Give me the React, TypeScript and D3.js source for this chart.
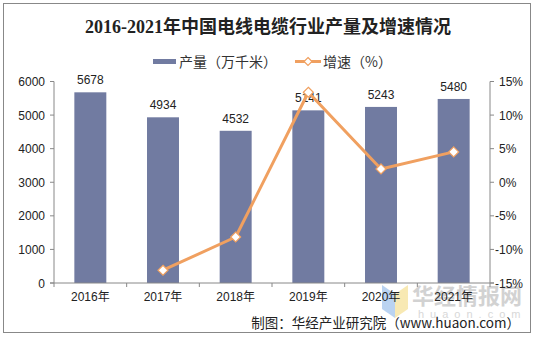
import React from "react";
import * as d3 from "d3";

const years = ["2016年", "2017年", "2018年", "2019年", "2020年", "2021年"];
const output = [5678, 4934, 4532, 5141, 5243, 5480];
const growth = [null, -13.1, -8.15, 13.4, 1.98, 4.52];
const leftTicks = [0, 1000, 2000, 3000, 4000, 5000, 6000];
const rightTicks = [-15, -10, -5, 0, 5, 10, 15];

const W = 535, H = 338;
const BAR = "#717ba1";
const LINE = "#f0a060";
const SANS = "'Liberation Sans', Arial, 'Noto Sans CJK SC', sans-serif";

export default function App() {
  const x0 = 54, x1 = 490, yTop = 81.5, yBot = 283;
  const x = d3.scaleBand<string>().domain(years).range([x0, x1]).paddingInner(0.56).paddingOuter(0.28);
  const xb = d3.scaleBand<string>().domain(years).range([x0, x1]);
  const yL = d3.scaleLinear().domain([0, 6000]).range([yBot, yTop]);
  const yR = d3.scaleLinear().domain([-15, 15]).range([yBot, yTop]);
  const pts = years
    .map((yr, i) => ({ yr, v: growth[i] }))
    .filter((d) => d.v !== null) as { yr: string; v: number }[];
  const line = d3
    .line<{ yr: string; v: number }>()
    .x((d) => (xb(d.yr) as number) + xb.bandwidth() / 2)
    .y((d) => yR(d.v));
  const boundaries = years.map((_, i) => x0 + i * xb.step()).concat([x1]);

  return (
    <svg width={W} height={H} style={{ position: "absolute", left: 0, top: 0 }}>
      <rect x={0} y={0} width={W} height={H} fill="#fff" />
      <rect x={3.5} y={3.5} width={527} height={329} fill="none" stroke="#888" strokeWidth={1} />
      <text x={268} y={33} textAnchor="middle" fontFamily="'Liberation Serif', 'Noto Sans CJK SC', serif" fontWeight="bold" fontSize={18} fill="#222">
        2016-2021年中国电线电缆行业产量及增速情况
      </text>
      {/* legend */}
      <rect x={153} y={59} width={23} height={5} fill={BAR} />
      <text x={179} y={66.5} fontFamily="'Noto Sans CJK SC', sans-serif" fontSize={14} fill="#333">产量（万千米）</text>
      <line x1={295} x2={321} y1={61.5} y2={61.5} stroke={LINE} strokeWidth={3} />
      <path d="M308,57.5 L312,61.5 L308,65.5 L304,61.5 Z" fill="#fff" stroke={LINE} strokeWidth={1.2} />
      <text x={323} y={66.5} fontFamily="'Noto Sans CJK SC', sans-serif" fontSize={14} fill="#333">增速（%）</text>

      {/* watermark */}
      <polygon points="382,285 395,294 395,318 382,309" fill="#a9c8ee" opacity={0.8} />
      <polygon points="395,294 408,285 408,309 395,318" fill="#f6e3a0" opacity={0.8} />
      <text x={412} y={304} fontFamily="'Noto Sans CJK SC', sans-serif" fontWeight="bold" fontSize={22} fill="#c8c8c8" opacity={0.8}>华经情报网</text>
      <text x={418} y={318} fontFamily={SANS} fontSize={11} letterSpacing={6} fill="#d8d8d8">huaon.com</text>

      {/* bars */}
      {years.map((yr, i) => (
        <g key={yr}>
          <rect x={x(yr)} y={yL(output[i])} width={x.bandwidth()} height={yBot - yL(output[i])} fill={BAR} />
          <text x={(x(yr) as number) + x.bandwidth() / 2} y={yL(output[i]) - 8} textAnchor="middle" fontFamily={SANS} fontSize={12} fill="#222">
            {output[i]}
          </text>
        </g>
      ))}

      {/* axes */}
      <line x1={x0} x2={x0} y1={yTop} y2={yBot} stroke="#888" />
      <line x1={x1} x2={x1} y1={yTop} y2={yBot} stroke="#888" />
      <line x1={x0 - 4} x2={x1 + 4} y1={yBot} y2={yBot} stroke="#888" />
      {leftTicks.map((t) => (
        <g key={"l" + t}>
          <line x1={x0 - 4} x2={x0} y1={yL(t)} y2={yL(t)} stroke="#888" />
          <text x={45} y={yL(t) + 4.5} textAnchor="end" fontFamily={SANS} fontSize={12} fill="#222">{t}</text>
        </g>
      ))}
      {rightTicks.map((t) => (
        <g key={"r" + t}>
          <line x1={x1} x2={x1 + 4} y1={yR(t)} y2={yR(t)} stroke="#888" />
          <text x={t < 0 ? 495 : 499} y={yR(t) + 4.5} fontFamily={SANS} fontSize={12} fill="#222">{t}%</text>
        </g>
      ))}
      {boundaries.map((b, i) => (
        <line key={"b" + i} x1={b} x2={b} y1={yBot} y2={yBot + 4} stroke="#888" />
      ))}
      {years.map((yr) => (
        <text key={"x" + yr} x={(xb(yr) as number) + xb.bandwidth() / 2} y={301} textAnchor="middle" fontFamily={SANS} fontSize={12} fill="#222">
          {yr}
        </text>
      ))}

      {/* line */}
      <path d={line(pts) || ""} fill="none" stroke={LINE} strokeWidth={3} strokeLinejoin="round" />
      {pts.map((d) => {
        const cx = (xb(d.yr) as number) + xb.bandwidth() / 2;
        const cy = yR(d.v);
        return (
          <path key={"m" + d.yr} d={`M${cx},${cy - 5} L${cx + 5},${cy} L${cx},${cy + 5} L${cx - 5},${cy} Z`} fill="#fff" stroke={LINE} strokeWidth={1.2} />
        );
      })}

      <text x={520} y={328} textAnchor="end" fontFamily="'Noto Sans CJK SC', sans-serif" fontSize={13.5} fill="#222">
        制图：华经产业研究院（www.huaon.com）
      </text>
    </svg>
  );
}
